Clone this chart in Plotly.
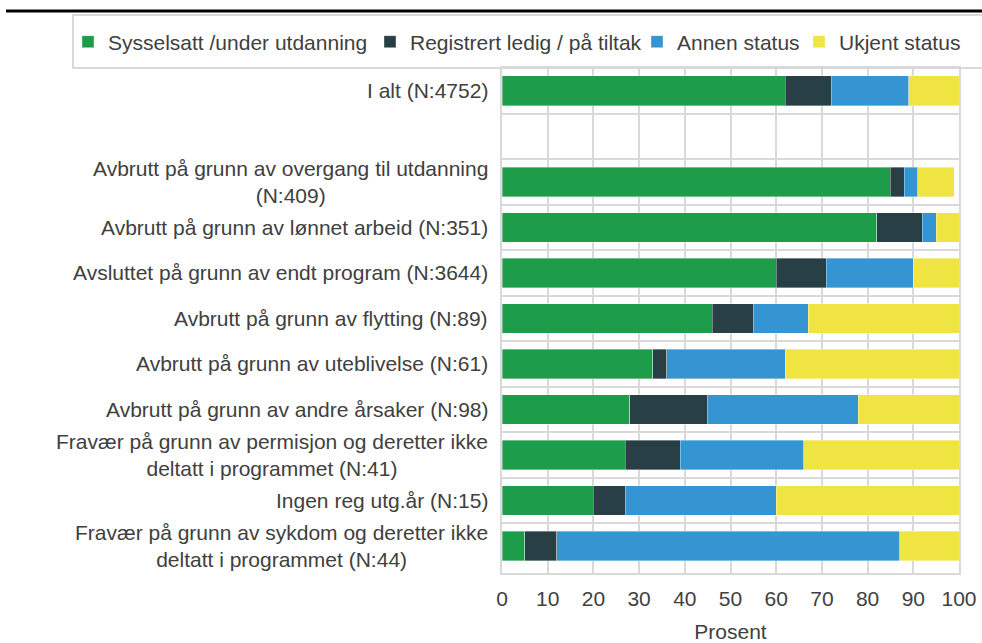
import plotly.graph_objects as go

categories = [
    "I alt (N:4752)",
    " ",
    "Avbrutt på grunn av overgang til utdanning<br>(N:409)",
    "Avbrutt på grunn av lønnet arbeid (N:351)",
    "Avsluttet på grunn av endt program (N:3644)",
    "Avbrutt på grunn av flytting (N:89)",
    "Avbrutt på grunn av uteblivelse (N:61)",
    "Avbrutt på grunn av andre årsaker (N:98)",
    "Fravær på grunn av permisjon og deretter ikke<br>deltatt i programmet (N:41)",
    "Ingen reg utg.år (N:15)",
    "Fravær på grunn av sykdom og deretter ikke<br>deltatt i programmet (N:44)",
]

sysselsatt = [62, None, 85, 82, 60, 46, 33, 28, 27, 20, 5]
registrert = [10, None, 3, 10, 11, 9, 3, 17, 12, 7, 7]
annen = [17, None, 3, 3, 19, 12, 26, 33, 27, 33, 75]
ukjent = [11, None, 8, 5, 10, 33, 38, 22, 34, 40, 14]

series_names = ["Sysselsatt /under utdanning", "Registrert ledig / på tiltak",
                "Annen status", "Ukjent status"]
series_values = [sysselsatt, registrert, annen, ukjent]
colors = ["#1d9c4a", "#283f46", "#3595d3", "#f0e442"]

x_ticks = [0, 10, 20, 30, 40, 50, 60, 70, 80, 90, 100]

W, H = 982, 643
ML, MR, MT, MB = 502, 23, 68, 70
PW, PH = W - ML - MR, H - MT - MB

def px_x(p):
    return (p - ML) / PW

def px_y(p):
    return (H - MB - p) / PH

FONT = "Liberation Sans, Arial, sans-serif"
TXT = "#404040"
GRID = "#d9d9d9"

fig = go.Figure()
legend_ids = ["legend", "legend2", "legend3", "legend4"]
for name, vals, col, lg in zip(series_names, series_values, colors, legend_ids):
    fig.add_trace(go.Bar(
        y=categories, x=vals, name=name, orientation="h",
        marker=dict(color=col, line=dict(color="rgba(255,255,255,0.6)", width=0.6)),
        legend=lg, showlegend=True,
    ))

legend_text_x = [108, 410, 677, 839]
legend_common = dict(
    orientation="h", xref="container", yref="container",
    xanchor="left", yanchor="middle", y=1 - 42 / H,
    font=dict(family=FONT, size=21, color=TXT),
    bgcolor="rgba(0,0,0,0)", borderwidth=0, itemwidth=30,
)
layout_legends = {}
for lg, tx in zip(legend_ids, legend_text_x):
    layout_legends[lg] = dict(legend_common, x=(tx - 40) / W)

annotations = []
for cat in categories:
    if cat.strip() == "":
        continue
    annotations.append(dict(
        x=0, xref="paper", y=cat, yref="y", text=cat, showarrow=False,
        xanchor="right", yanchor="middle", xshift=-12, align="center",
        font=dict(family=FONT, size=21, color=TXT),
    ))

shapes = [
    dict(type="line", xref="paper", yref="paper",
         x0=px_x(6), x1=px_x(990), y0=px_y(11), y1=px_y(11),
         line=dict(color="black", width=3)),
    dict(type="rect", xref="paper", yref="paper",
         x0=px_x(73), x1=px_x(1000), y0=px_y(68), y1=px_y(15),
         line=dict(color=GRID, width=2), fillcolor="rgba(0,0,0,0)"),
]

fig.update_layout(
    width=W, height=H,
    margin=dict(l=ML, r=MR, t=MT, b=MB, autoexpand=False),
    barmode="stack", bargap=0.35,
    showlegend=True,
    plot_bgcolor="white", paper_bgcolor="white",
    font=dict(family=FONT, size=21, color=TXT),
    annotations=annotations, shapes=shapes,
    xaxis=dict(
        range=[0, 100], tickvals=x_ticks, ticktext=[str(v) for v in x_ticks],
        showgrid=True, gridcolor=GRID, gridwidth=2,
        showline=True, linecolor=GRID, linewidth=2, mirror=True,
        zeroline=False, ticks="", ticklabelstandoff=6,
        tickfont=dict(family=FONT, size=21, color=TXT),
        title=dict(text="Prosent", font=dict(family=FONT, size=21, color=TXT), standoff=16),
        fixedrange=True,
    ),
    yaxis=dict(
        type="category", categoryorder="array", categoryarray=categories,
        autorange="reversed", showticklabels=False, ticks="",
        tickson="boundaries", showgrid=True, gridcolor=GRID, gridwidth=2,
        showline=True, linecolor=GRID, linewidth=2, mirror=True,
        fixedrange=True,
    ),
    **layout_legends,
)

fig.write_html(
    "out.html",
    config={"displayModeBar": False},
    post_script="document.body.style.margin='0';document.body.style.overflow='hidden';",
)
